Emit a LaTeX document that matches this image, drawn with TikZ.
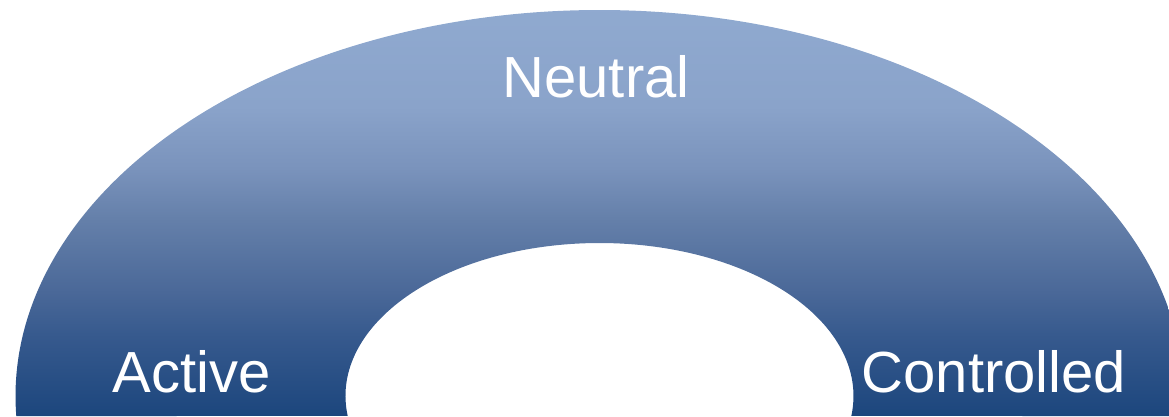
\documentclass[tikz,border=0pt]{standalone}
\usepackage{fontspec}
\usetikzlibrary{calc}
\setmainfont{Liberation Sans}
\definecolor{c0}{HTML}{1C467D}
\definecolor{c1}{HTML}{375A8E}
\definecolor{c2}{HTML}{4A6898}
\definecolor{c3}{HTML}{6580AA}
\definecolor{c4}{HTML}{7A93BC}
\definecolor{c5}{HTML}{8AA3CA}
\definecolor{c6}{HTML}{90AAD0}
\pgfdeclareverticalshading{archshade}{100bp}{color(0bp)=(c0); color(25bp)=(c0); color(35bp)=(c1); color(40bp)=(c2); color(49bp)=(c3); color(55bp)=(c4); color(62.5bp)=(c5); color(75bp)=(c6); color(100bp)=(c6)}
\tikzset{
  lbl/.style={text=white, anchor=base, inner sep=0pt, font=\fontsize{58}{60}\selectfont},
}
\begin{document}
\begin{tikzpicture}[x=1pt,y=1pt]
\useasboundingbox (0,0) rectangle (1169,416);
\coordinate (c) at (599.5,20);
\begin{scope}
\clip (0,0) rectangle (1169,416);
\path[shading=archshade]
  ($(c)+({584*cos(-2.97)},{386*sin(-2.97)})$)
  arc[start angle=-2.97, end angle=182.97, x radius=584, y radius=386]
  -- ($(c)+({254*cos(187.51)},{153*sin(187.51)})$)
  arc[start angle=187.51, end angle=-7.51, x radius=254, y radius=153]
  -- cycle;
\end{scope}
\node[lbl] (neutral) at (596,319) {Neutral};
\node[lbl] (active) at (191.5,24) {Active};
\node[lbl] (controlled) at (994,24) {Controlled};
\end{tikzpicture}
\end{document}
